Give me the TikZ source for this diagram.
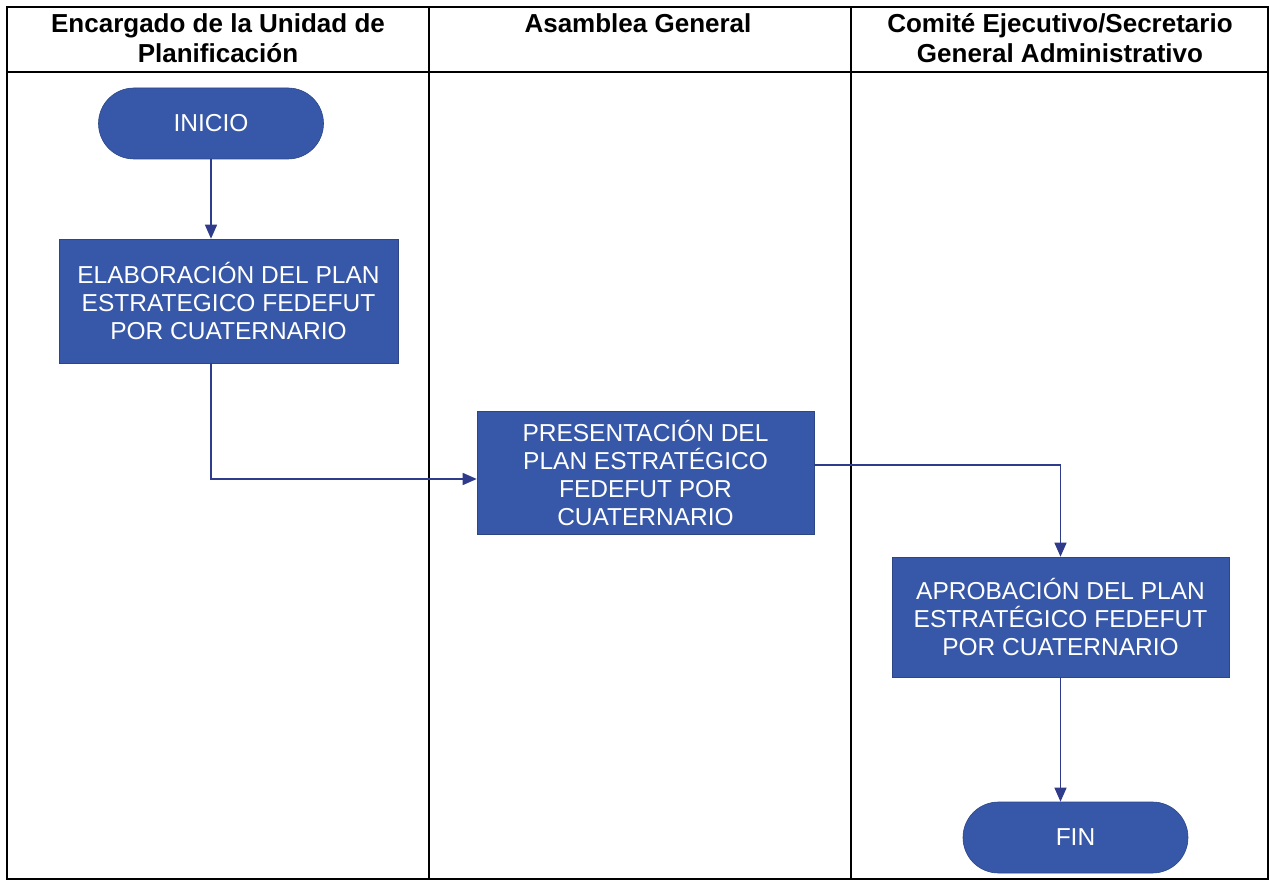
\documentclass[tikz,border=0pt]{standalone}
\usepackage{fontspec}
\setmainfont{Liberation Sans}
\usetikzlibrary{arrows.meta,shapes.misc}
\definecolor{boxblue}{HTML}{3758A8}
\definecolor{linkblue}{HTML}{2F3C8C}
\begin{document}
\begin{tikzpicture}[x=1pt,y=-1pt,
  stepbox/.style={rectangle, fill=boxblue, draw=boxblue!80!black, line width=0.6pt, text=white, align=center, font=\fontsize{24.5}{28}\selectfont, inner sep=0pt},
  termbox/.style={rounded rectangle, fill=boxblue, draw=boxblue!80!black, line width=0.6pt, text=white, font=\fontsize{24.5}{28}\selectfont, minimum width=225pt, minimum height=71pt, inner sep=0pt},
  link/.style={draw=linkblue, line width=1.4pt, -{Triangle[width=12pt,length=14pt]}},
  head/.style={font=\bfseries\fontsize{26}{30}\selectfont, align=center, inner sep=0pt},
  frame/.style={draw=black, line width=1.6pt}
]
\useasboundingbox (0,0) rectangle (1270,882);
% table
\draw[frame] (7,7) rectangle (1268,879);
\draw[frame] (7,72) -- (1268,72);
\draw[frame] (429,7) -- (429,879);
\draw[frame] (851,7) -- (851,879);
% headers
\node[head] (h1) at (218,38) {Encargado de la Unidad de\\Planificación};
\node[head] (h2) at (638,23) {Asamblea General};
\node[head] (h3) at (1060,38) {Comité Ejecutivo/Secretario\\General Administrativo};
% nodes
\node[termbox] (inicio) at (211,123.5) {INICIO};
\node[stepbox, minimum width=339pt, minimum height=124pt] (elab) at (228.5,301) {ELABORACIÓN DEL PLAN\\ESTRATEGICO FEDEFUT\\POR CUATERNARIO};
\node[stepbox, minimum width=337pt, minimum height=123pt] (pres) at (645.5,472.5) {PRESENTACIÓN DEL\\PLAN ESTRATÉGICO\\FEDEFUT POR\\CUATERNARIO};
\node[stepbox, minimum width=337pt, minimum height=120pt] (aprob) at (1060.5,617) {APROBACIÓN DEL PLAN\\ESTRATÉGICO FEDEFUT\\POR CUATERNARIO};
\node[termbox] (fin) at (1075.5,837.5) {FIN};
% connectors
\draw[link] (inicio.south) -- (inicio.south |- elab.north);
\draw[link] (elab.south -| inicio.south) |- ([yshift=-6.5pt]pres.west);
\draw[link] ([yshift=7.5pt]pres.east) -| (aprob.north);
\draw[link] (aprob.south) -- (aprob.south |- fin.north);
\end{tikzpicture}
\end{document}
